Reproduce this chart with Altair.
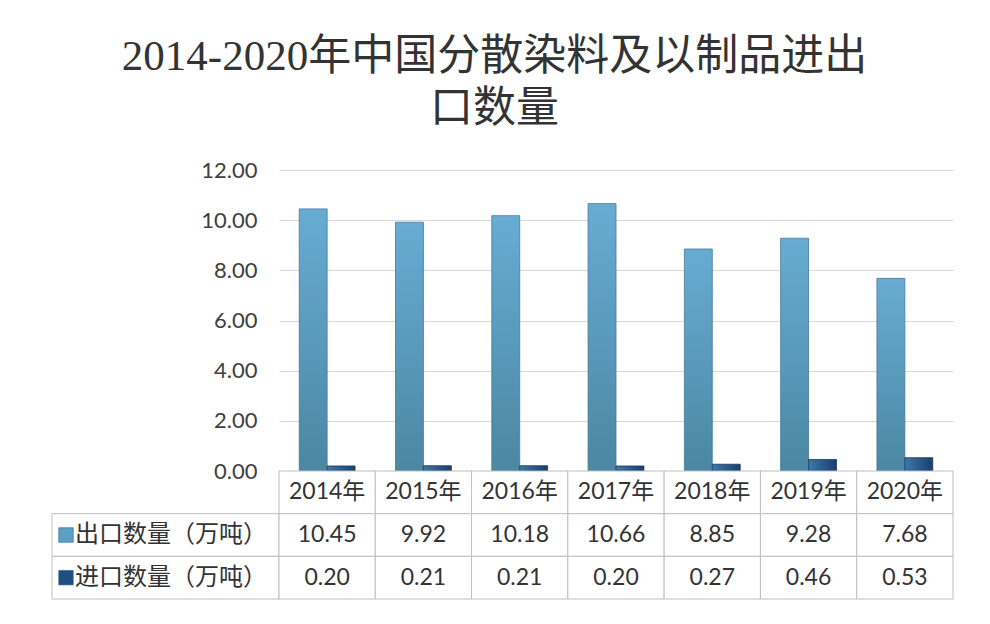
import altair as alt
import pandas as pd

# ---------------- data ----------------
years = ["2014年", "2015年", "2016年", "2017年", "2018年", "2019年", "2020年"]
export_vals = [10.45, 9.92, 10.18, 10.66, 8.85, 9.28, 7.68]
import_vals = [0.20, 0.21, 0.21, 0.20, 0.27, 0.46, 0.53]
series = ["出口数量（万吨）", "进口数量（万吨）"]
y_ticks = [0, 2, 4, 6, 8, 10, 12]
title_lines = ["2014-2020年中国分散染料及以制品进出", "口数量"]
header_key = "年份"

# ---------------- tables built from the lists ----------------
bars_df = pd.DataFrame({
    "year": years * 2,
    "series": [series[0]] * len(years) + [series[1]] * len(years),
    "value": export_vals + import_vals,
})

table_rows = [header_key] + series
tbl = []
for i, y in enumerate(years):
    tbl.append({"year": y, "row": header_key, "label": y})
    tbl.append({"year": y, "row": series[0], "label": f"{export_vals[i]:.2f}"})
    tbl.append({"year": y, "row": series[1], "label": f"{import_vals[i]:.2f}"})
table_df = pd.DataFrame(tbl)
lab_df = pd.DataFrame({"row": series, "series": series})

# ---------------- styling ----------------
W, H = 674, 301
LABEL_W = 227
TABLE_H = 128
GRID = "#d9d9d9"
CELL = "#bfbfbf"
TXT = "#333333"
NUM_FONT = "Lato, Noto Sans CJK SC"
CJK_FONT = "Noto Sans CJK SC"
EXPORT_C = "#5b9fc6"
IMPORT_C = "#1f4f80"

export_grad = alt.Gradient(
    gradient="linear",
    stops=[alt.GradientStop(color="#68acd3", offset=0),
           alt.GradientStop(color="#4b87a2", offset=1)],
    x1=0, x2=0, y1=0, y2=1,
)
import_grad = alt.Gradient(
    gradient="linear",
    stops=[alt.GradientStop(color="#3b78aa", offset=0),
           alt.GradientStop(color="#1b3f6a", offset=1)],
    x1=0, x2=1, y1=0, y2=0,
)

# ---------------- bar chart ----------------
x_bar = alt.X("year:N", sort=years,
              scale=alt.Scale(domain=years, paddingInner=0.42, paddingOuter=0.21),
              axis=None)
xoff = alt.XOffset("series:N", sort=series,
                   scale=alt.Scale(domain=series, paddingInner=0, paddingOuter=0))
y_bar = alt.Y("value:Q",
              scale=alt.Scale(domain=[0, 12], nice=False),
              axis=alt.Axis(values=y_ticks, format=".2f", title=None,
                            domain=False, ticks=False, labelPadding=22,
                            labelFontSize=22, labelColor="#404040",
                            labelFont=NUM_FONT, gridColor=GRID, gridWidth=1))

base = alt.Chart(bars_df).encode(x=x_bar, xOffset=xoff, y=y_bar)
exp_bars = base.transform_filter(alt.datum.series == series[0]).mark_bar(
    fill=export_grad, stroke="#3f7b99", strokeWidth=0.8)
imp_bars = base.transform_filter(alt.datum.series == series[1]).mark_bar(
    fill=import_grad, stroke="#173a63", strokeWidth=0.8)
bar_chart = alt.layer(exp_bars, imp_bars).properties(width=W, height=H)

# ---------------- data table ----------------
tx = alt.X("year:N", sort=years,
           scale=alt.Scale(domain=years, paddingInner=0, paddingOuter=0), axis=None)
ty = alt.Y("row:N", sort=table_rows,
           scale=alt.Scale(domain=table_rows, paddingInner=0, paddingOuter=0), axis=None)
cells = alt.Chart(table_df).mark_rect(fill="white", stroke=CELL, strokeWidth=1).encode(x=tx, y=ty)
texts = alt.Chart(table_df).mark_text(fontSize=23, color=TXT, font=NUM_FONT).encode(
    x=tx, y=ty, text="label:N")
table = alt.layer(cells, texts).properties(width=W, height=TABLE_H)

# ---------------- row-label column ----------------
ly = alt.Y("row:N", sort=table_rows,
           scale=alt.Scale(domain=table_rows, paddingInner=0, paddingOuter=0), axis=None)
lcells = alt.Chart(lab_df).mark_rect(fill="white", stroke=CELL, strokeWidth=1).encode(y=ly)
lswatch = alt.Chart(lab_df).mark_square(size=210, opacity=1, stroke="#2f5f85", strokeWidth=0.6).encode(
    y=ly, x=alt.value(14),
    color=alt.Color("series:N", scale=alt.Scale(domain=series, range=[EXPORT_C, IMPORT_C]),
                    legend=None))
ltext = alt.Chart(lab_df).mark_text(align="left", fontSize=24, color=TXT, font=CJK_FONT).encode(
    y=ly, x=alt.value(23), text="row:N")
labels = alt.layer(lcells, lswatch, ltext).properties(width=LABEL_W, height=TABLE_H)

# ---------------- empty corner cell ----------------
spacer = alt.Chart(pd.DataFrame({"a": [0]})).mark_text(text="").encode(
    x=alt.value(0), y=alt.value(0)).properties(width=LABEL_W, height=H)

chart = alt.ConcatChart(
    concat=[spacer, bar_chart, labels, table],
    columns=2,
    spacing=0,
    bounds="flush",
    align="each",
    title=alt.TitleParams(text=title_lines, fontSize=43, font="Liberation Serif, Noto Sans CJK SC",
                          fontWeight="normal", color=TXT, lineHeight=52, anchor="middle",
                          offset=28, dx=-8),
    padding={"left": 43, "top": 27, "right": 5, "bottom": 5},
).configure_view(stroke="transparent").configure_axis(labelFont=NUM_FONT)

chart.save("out.html", embed_options={"renderer": "svg", "actions": False})
